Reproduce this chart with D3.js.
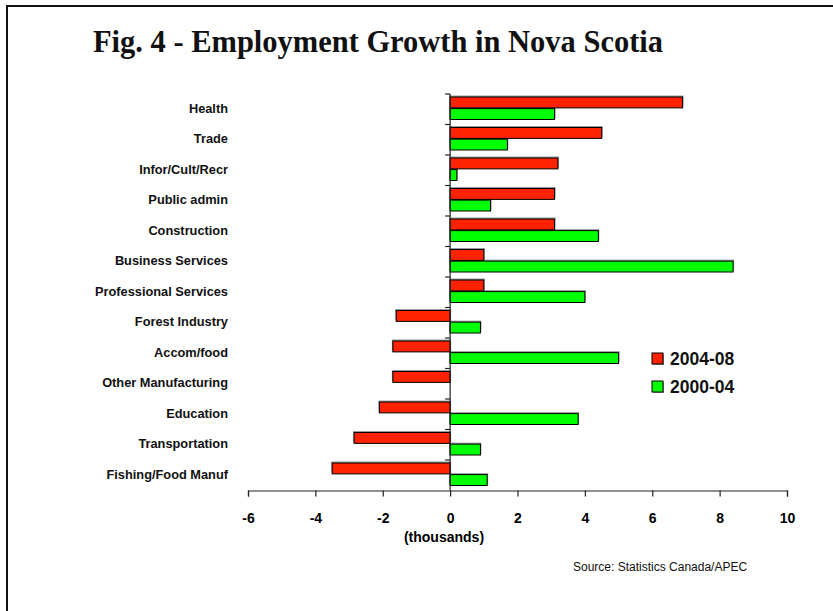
<!DOCTYPE html>
<html>
<head>
<meta charset="utf-8">
<script src="https://cdn.jsdelivr.net/npm/d3@7"></script>
<style>
    body { margin: 0; background: #fff; }
    svg { display: block; }
    .cat-label, .tick-label, .axis-title, .legend-label { font-family: "Liberation Sans", Arial, sans-serif; font-weight: bold; }
</style>
</head>
<body>
<svg id="chart" width="833" height="611"></svg>
<script>
// categories, top to bottom
var categories = ["Health", "Trade", "Infor/Cult/Recr", "Public admin", "Construction",
    "Business Services", "Professional Services", "Forest Industry", "Accom/food",
    "Other Manufacturing", "Education", "Transportation", "Fishing/Food Manuf"];

// employment change, thousands
var growth_0408 = [6.9, 4.5, 3.2, 3.1, 3.1, 1.0, 1.0, -1.6, -1.7, -1.7, -2.1, -2.85, -3.5];
var growth_0004 = [3.1, 1.7, 0.2, 1.2, 4.4, 8.4, 4.0, 0.9, 5.0, 0, 3.8, 0.9, 1.1];

var series_names = ["2004-08", "2000-04"];
var series_colors = ["#ff2200", "#00ff00"];
var x_ticks = [-6, -4, -2, 0, 2, 4, 6, 8, 10];

var svg = d3.select("#chart");

// frame (top and left edges only show in the picture)
svg.append("path")
    .attr("d", "M7,611 V6 H833")
    .attr("fill", "none")
    .attr("stroke", "#111")
    .attr("stroke-width", 2);

svg.append("text")
    .attr("x", 93)
    .attr("y", 52)
    .attr("font-family", "'Liberation Serif', 'DejaVu Serif', serif")
    .attr("font-weight", "bold")
    .attr("font-size", 31)
    .attr("textLength", 570)
    .attr("lengthAdjust", "spacingAndGlyphs")
    .attr("fill", "#111")
    .text("Fig. 4 - Employment Growth in Nova Scotia");

var x = d3.scaleLinear().domain([-6, 10]).range([248, 787]);
var y = d3.scaleBand().domain(categories).range([94, 490.5]);
var sub = d3.scaleBand().domain(series_names).range([3, 26]).paddingInner(0.02);

var rows = categories.map(function (c, i) {
    return {cat: c, values: [growth_0408[i], growth_0004[i]]};
});

var bars = [];
rows.forEach(function (row) {
    row.values.forEach(function (v, j) {
        if (v !== 0) bars.push({cat: row.cat, series: series_names[j], value: v, color: series_colors[j]});
    });
});

var g_bars = svg.append("g");

// soft gray shadow behind each bar
g_bars.selectAll("rect.shadow")
    .data(bars)
    .enter().append("rect")
    .attr("class", "shadow")
    .attr("x", function (d) { return Math.min(x(0), x(d.value)) - 1; })
    .attr("y", function (d) { return y(d.cat) + sub(d.series) - 1.5; })
    .attr("width", function (d) { return Math.abs(x(d.value) - x(0)) + 2; })
    .attr("height", sub.bandwidth())
    .attr("fill", "#999");

g_bars.selectAll("rect.bar")
    .data(bars)
    .enter().append("rect")
    .attr("class", "bar")
    .attr("x", function (d) { return Math.min(x(0), x(d.value)); })
    .attr("y", function (d) { return y(d.cat) + sub(d.series); })
    .attr("width", function (d) { return Math.abs(x(d.value) - x(0)); })
    .attr("height", sub.bandwidth() - 0.5)
    .attr("fill", function (d) { return d.color; })
    .attr("stroke", "#000")
    .attr("stroke-width", 1);

// x axis
var x_axis = d3.axisBottom(x).tickValues(x_ticks).tickSize(6).tickFormat(d3.format("d"));
var gx = svg.append("g")
    .attr("transform", "translate(0,490.5)")
    .call(x_axis);
gx.select(".domain").attr("stroke", "#222").attr("stroke-width", 1.2);
gx.selectAll(".tick line").attr("stroke", "#222").attr("stroke-width", 1.2);
gx.selectAll(".tick text")
    .attr("class", "tick-label")
    .attr("y", 0)
    .attr("dy", 32)
    .attr("font-size", 14)
    .attr("fill", "#000")
    .text(function (d) { return d; });

// y axis line with ticks at band edges
svg.append("line")
    .attr("x1", x(0)).attr("x2", x(0))
    .attr("y1", y.range()[0]).attr("y2", y.range()[1])
    .attr("stroke", "#222").attr("stroke-width", 1.2);

svg.append("g").selectAll("line")
    .data(categories)
    .enter().append("line")
    .attr("x1", x(0) - 5).attr("x2", x(0))
    .attr("y1", function (d) { return y(d); })
    .attr("y2", function (d) { return y(d); })
    .attr("stroke", "#222").attr("stroke-width", 1.2);

svg.append("g").selectAll("text")
    .data(categories)
    .enter().append("text")
    .attr("class", "cat-label")
    .attr("x", 228)
    .attr("y", function (d) { return y(d) + y.bandwidth() / 2 - 1; })
    .attr("dy", "0.35em")
    .attr("text-anchor", "end")
    .attr("font-size", 12.8)
    .attr("fill", "#111")
    .text(function (d) { return d; });

svg.append("text")
    .attr("class", "axis-title")
    .attr("x", 444)
    .attr("y", 537)
    .attr("dy", "0.35em")
    .attr("text-anchor", "middle")
    .attr("font-size", 14)
    .text("(thousands)");

// legend
var legend = svg.append("g").attr("transform", "translate(652,353)");
series_names.forEach(function (name, i) {
    var row = legend.append("g").attr("transform", "translate(0," + (i * 28) + ")");
    row.append("rect")
        .attr("x", 1).attr("y", 1)
        .attr("width", 11).attr("height", 11)
        .attr("fill", "#999");
    row.append("rect")
        .attr("width", 11).attr("height", 11)
        .attr("fill", series_colors[i])
        .attr("stroke", "#000").attr("stroke-width", 1);
    row.append("text")
        .attr("class", "legend-label")
        .attr("x", 18)
        .attr("y", 5.5)
        .attr("dy", "0.35em")
        .attr("font-size", 17.5)
        .attr("fill", "#111")
        .text(name);
});

svg.append("text")
    .attr("x", 573)
    .attr("y", 567)
    .attr("dy", "0.35em")
    .attr("font-family", "'Liberation Sans', Arial, sans-serif")
    .attr("font-size", 12)
    .attr("fill", "#111")
    .text("Source: Statistics Canada/APEC");
</script>
</body>
</html>
